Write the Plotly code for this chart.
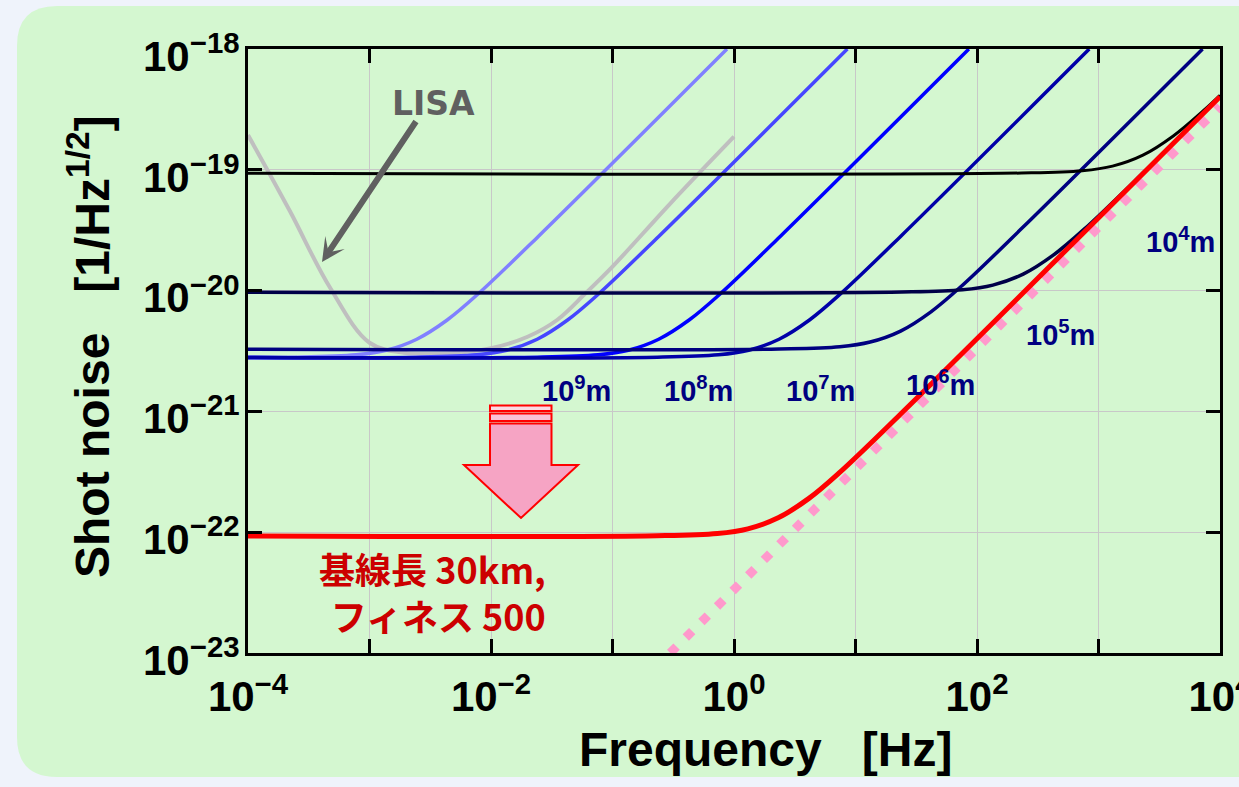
import plotly.graph_objects as go

# ---- data: frequency [Hz] and shot noise [1/Hz^1/2] -------------------------
lisa_f = [1e-4, 2.2e-4, 4.7e-4, 1e-3, 2e-3, 5e-3, 1e-2, 2e-2, 3.5e-2, 6e-2, 0.1, 0.3, 1.0]
lisa_h = [1.94e-19, 4.6e-20, 1.07e-20, 3.7e-21, 3.05e-21, 3.05e-21, 3.33e-21,
          4.15e-21, 5.71e-21, 9.5e-21, 1.58e-20, 5.28e-20, 1.88e-19]

lightblue_f = [1e-4, 2.45e-4, 7.75e-4, 1.38e-3, 2.45e-3, 4.36e-3, 7.75e-3, 2.45e-2, 0.875]
lightblue_h = [2.80e-21, 2.81e-21, 2.94e-21, 3.21e-21, 3.96e-21, 5.71e-21, 9.29e-21, 2.81e-20, 1.0e-18]

midblue_f = [1e-4, 2.4e-3, 7.6e-3, 1.35e-2, 2.4e-2, 4.27e-2, 7.6e-2, 0.24, 8.57]
midblue_h = [2.80e-21, 2.81e-21, 2.94e-21, 3.21e-21, 3.96e-21, 5.71e-21, 9.29e-21, 2.81e-20, 1.0e-18]

blue_f = [1e-4, 2.4e-2, 7.6e-2, 0.135, 0.24, 0.427, 0.76, 2.4, 85.7]
blue_h = [2.80e-21, 2.81e-21, 2.94e-21, 3.21e-21, 3.96e-21, 5.71e-21, 9.29e-21, 2.81e-20, 1.0e-18]

darkblue_f = [1e-4, 0.235, 0.743, 1.32, 2.35, 4.18, 7.43, 23.5, 839]
darkblue_h = [2.80e-21, 2.81e-21, 2.94e-21, 3.21e-21, 3.96e-21, 5.71e-21, 9.29e-21, 2.81e-20, 1.0e-18]

navy_f = [1e-4, 2.35, 7.43, 13.2, 23.5, 41.8, 74.3, 235, 7187]
navy_h = [3.27e-21, 3.29e-21, 3.43e-21, 3.75e-21, 4.62e-21, 6.67e-21, 1.085e-20, 3.29e-20, 1.0e-18]

deepnavy_f = [1e-4, 24, 75.9, 135, 240, 427, 759, 2400, 1e4]
deepnavy_h = [9.68e-21, 9.73e-21, 1.015e-20, 1.11e-20, 1.369e-20, 1.975e-20, 3.21e-20, 9.73e-20, 4.03e-19]

black_f = [1e-4, 232, 734, 1305, 2320, 4126, 7336, 1e4]
black_h = [9.35e-20, 9.40e-20, 9.81e-20, 1.072e-19, 1.322e-19, 1.907e-19, 3.10e-19, 4.14e-19]

red_f = [1e-4, 0.231, 0.73, 1.3, 2.31, 4.11, 7.3, 23.1, 1e4]
red_h = [9.3e-23, 9.35e-23, 9.76e-23, 1.067e-22, 1.315e-22, 1.897e-22, 3.085e-22, 9.35e-22, 4.03e-19]

limit_f = [0.2985, 1e4]
limit_h = [1e-23, 3.35e-19]

x_tick_vals = [1e-4, 1e-3, 1e-2, 1e-1, 1e0, 1e1, 1e2, 1e3, 1e4]
x_tick_text = ["10<sup>\u22124</sup>", "", "10<sup>\u22122</sup>", "", "10<sup>0</sup>", "",
               "10<sup>2</sup>", "", "10<sup>4</sup>"]
y_tick_vals = [1e-23, 1e-22, 1e-21, 1e-20, 1e-19, 1e-18]
y_tick_text = ["10<sup>\u221223</sup>", "10<sup>\u221222</sup>", "10<sup>\u221221</sup>",
               "10<sup>\u221220</sup>", "10<sup>\u221219</sup>", "10<sup>\u221218</sup>"]

arm_labels = ["10<sup>9</sup>m", "10<sup>8</sup>m", "10<sup>7</sup>m",
              "10<sup>6</sup>m", "10<sup>5</sup>m", "10<sup>4</sup>m"]

# ---- canvas geometry --------------------------------------------------------
W, H = 1239, 787
ML, MR, MT, MB = 248, 19, 49, 134
PW = W - ML - MR
PH = H - MT - MB


def px(x):
    """figure pixel column -> paper x"""
    return (x - ML) / PW


def py(y):
    """figure pixel row -> paper y"""
    return (H - MB - y) / PH


def rounded_rect(x0, y0, x1, y1, r):
    return (f"M{px(x0 + r)},{py(y0)} L{px(x1 - r)},{py(y0)} "
            f"Q{px(x1)},{py(y0)} {px(x1)},{py(y0 + r)} L{px(x1)},{py(y1 - r)} "
            f"Q{px(x1)},{py(y1)} {px(x1 - r)},{py(y1)} L{px(x0 + r)},{py(y1)} "
            f"Q{px(x0)},{py(y1)} {px(x0)},{py(y1 - r)} L{px(x0)},{py(y0 + r)} "
            f"Q{px(x0)},{py(y0)} {px(x0 + r)},{py(y0)} Z")


def poly(points):
    return "M" + " L".join(f"{px(a)},{py(b)}" for a, b in points) + " Z"


GREEN = "#d4f7d0"
FONT = "Liberation Sans"

fig = go.Figure()


def add_curve(f, h, color, width, dash=None, spline=True):
    fig.add_trace(go.Scatter(
        x=f, y=h, mode="lines", hoverinfo="skip", showlegend=False,
        line=dict(color=color, width=width, dash=dash,
                  shape="spline" if spline else "linear"),
    ))


add_curve(lisa_f, lisa_h, "#bfbfbf", 4)
add_curve(lightblue_f, lightblue_h, "#8080ff", 3.5)
add_curve(midblue_f, midblue_h, "#4646ff", 3.5)
add_curve(blue_f, blue_h, "#0000ff", 3.5)
add_curve(darkblue_f, darkblue_h, "#0000a8", 3.5)
add_curve(navy_f, navy_h, "#000080", 3.5)
add_curve(deepnavy_f, deepnavy_h, "#000048", 3.5)
add_curve(black_f, black_h, "#000000", 3)
add_curve(limit_f, limit_h, "#ff99cc", 9, dash="9px,13px", spline=False)
add_curve(red_f, red_h, "#ff0000", 5)

axis_common = dict(
    type="log", ticks="inside", ticklen=14, tickwidth=3, tickcolor="black",
    showline=True, linewidth=3, linecolor="black", mirror="allticks",
    showgrid=True, gridcolor="#c8c8c8", gridwidth=1.3, zeroline=False,
    automargin=False, ticklabeloverflow="allow",
    tickfont=dict(family=FONT, size=42, color="black", weight="bold"),
)

shapes = [
    # light-green rounded panel behind the chart
    dict(type="path", xref="paper", yref="paper", layer="below",
         path=rounded_rect(17, 6, 1300, 777, 40), fillcolor=GREEN, line=dict(width=0)),
    # downward block arrow: two stripes above a pink arrow body
    dict(type="path", xref="paper", yref="paper", layer="above",
         path=poly([(490, 405.5), (551.5, 405.5), (551.5, 411), (490, 411)]),
         fillcolor="#fbd8e4", line=dict(color="#ff0000", width=2)),
    dict(type="path", xref="paper", yref="paper", layer="above",
         path=poly([(490, 413.5), (551.5, 413.5), (551.5, 421), (490, 421)]),
         fillcolor="#f9c3d6", line=dict(color="#ff0000", width=2)),
    dict(type="path", xref="paper", yref="paper", layer="above",
         path=poly([(490, 423.5), (551.5, 423.5), (551.5, 465), (578, 465),
                    (521, 518), (464, 465), (490, 465)]),
         fillcolor="#f6a4c4", line=dict(color="#ff0000", width=2)),
]

annotations = [
    dict(text="Frequency\u00a0\u00a0\u00a0[Hz]", xref="paper", yref="paper",
         x=px(765), y=py(750), showarrow=False, xanchor="center", yanchor="middle",
         font=dict(family=FONT, size=48, color="black", weight="bold")),
    dict(text="Shot noise\u00a0\u00a0\u00a0[1/Hz<sup>1/2</sup>]", xref="paper", yref="paper",
         x=px(89), y=py(347), showarrow=False, textangle=-90,
         xanchor="center", yanchor="middle",
         font=dict(family=FONT, size=48, color="black", weight="bold")),
    dict(text="LISA", xref="paper", yref="paper", x=px(433), y=py(104),
         showarrow=False, xanchor="center", yanchor="middle",
         font=dict(family="DejaVu Sans", size=33, color="#606060", weight="bold")),
    dict(text="", xref="paper", yref="paper", x=px(322), y=py(262),
         showarrow=True, arrowhead=3, arrowsize=0.65, arrowwidth=6,
         arrowcolor="#606060", ax=95, ay=-142, standoff=0),
    dict(text="基線長 30km,<br>フィネス 500", xref="paper", yref="paper",
         x=px(548), y=py(591), showarrow=False, xanchor="right", yanchor="middle",
         align="right",
         font=dict(family="Noto Sans CJK JP", size=36, color="#cc0000", weight="bold")),
]

label_pos = [(576, 389), (698, 389), (820, 389), (940, 383), (1060, 333), (1180, 240)]
for text, (lx, ly) in zip(arm_labels, label_pos):
    annotations.append(dict(
        text=text, xref="paper", yref="paper", x=px(lx), y=py(ly),
        showarrow=False, xanchor="center", yanchor="middle",
        font=dict(family=FONT, size=29, color="#000080", weight="bold")))

fig.update_layout(
    width=W, height=H, autosize=False,
    margin=dict(l=ML, r=MR, t=MT, b=MB, pad=0, autoexpand=False),
    paper_bgcolor="#eff3fb", plot_bgcolor=GREEN,
    xaxis=dict(axis_common, range=[-4, 4], tickvals=x_tick_vals, ticktext=x_tick_text,
               ticklabelstandoff=5),
    yaxis=dict(axis_common, range=[-23, -18], tickvals=y_tick_vals, ticktext=y_tick_text,
               ticklabelshift=7, ticklabelstandoff=-3),
    shapes=shapes, annotations=annotations,
)

fig.write_html("out.html")
